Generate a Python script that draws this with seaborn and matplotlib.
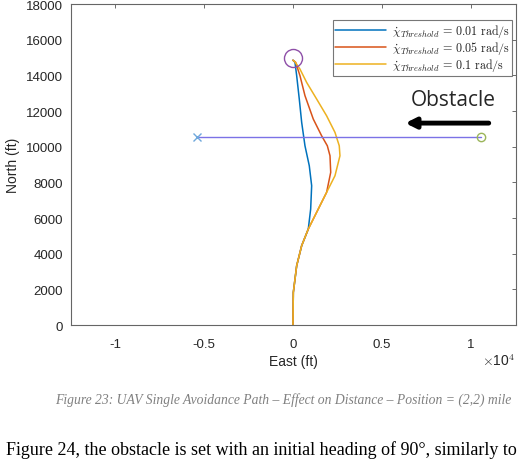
import matplotlib
matplotlib.use('agg')
from matplotlib import pyplot as plt
from matplotlib.lines import Line2D
import numpy as np
import pandas as pd
import seaborn as sns

# avoidance paths (east ft, north ft)
east_001 = [0, 20, 208, 489, 860, 994, 1050, 916, 674, 489, 354, 208, 112, 0]
north_001 = [0, 1830, 3325, 4450, 5380, 6500, 7810, 8930, 10050, 11360, 12670, 13980, 14730, 14850]
east_005 = [0, 20, 208, 489, 860, 1330, 1890, 2120, 2080, 1930, 1610, 1140, 674, 393, 150, 0]
north_005 = [0, 1830, 3325, 4450, 5380, 6320, 7440, 8560, 9490, 10050, 10610, 11550, 12860, 13980, 14730, 14850]
east_01 = [0, 20, 208, 489, 860, 1330, 1890, 2360, 2640, 2600, 2360, 1890, 1330, 770, 393, 112, 0]
north_01 = [0, 1830, 3325, 4450, 5380, 6320, 7440, 8370, 9490, 10050, 10800, 11730, 12670, 13600, 14350, 14760, 14850]
cases = ['0.01', '0.05', '0.1']

obs_east = [-5400, 10550]
obs_north = [10560, 10560]
target = (0, 15000)

xticks = [-10000, -5000, 0, 5000, 10000]
xticklabels = ['-1', '-0.5', '0', '0.5', '1']
yticks = list(range(0, 18001, 2000))

rows = []
for c, ex, no in zip(cases, [east_001, east_005, east_01], [north_001, north_005, north_01]):
    for i, (e, n) in enumerate(zip(ex, no)):
        rows.append([c, i, e, n])
df = pd.DataFrame(rows, columns=['case', 'idx', 'east', 'north'])

sns.set_style('white')
plt.rcParams['font.family'] = ['Liberation Sans', 'DejaVu Sans']
plt.rcParams['mathtext.fontset'] = 'cm'

fig = plt.figure(figsize=(5.23, 4.64), dpi=100)
ax = fig.add_axes([0.1358, 0.2974, 0.8508, 0.6918])

pal = ['#0072BD', '#D95319', '#EDB120']
sns.lineplot(data=df, x='east', y='north', hue='case', units='case', estimator=None,
             sort=False, palette=pal, lw=1.1, ax=ax, legend=False)

ax.plot(obs_east, obs_north, color='#7B72E6', lw=1.0)
ax.plot(obs_east[0], obs_north[0], 'x', color='#6FA8DC', ms=6, mew=1.0)
ax.plot(obs_east[1], obs_north[1], 'o', mfc='none', mec='#9BB55A', ms=6, mew=1.0)
ax.plot(target[0], target[1], 'o', mfc='none', mec='#8E4FA8', ms=13, mew=1.0)

handles = [Line2D([], [], color=p, lw=1.1) for p in pal]
labels = [r'$\dot{\chi}_{Threshold}\,=\,%s\ \mathrm{rad/s}$' % c for c in cases]
leg = ax.legend(handles, labels, loc='upper right', bbox_to_anchor=(0.997, 0.958),
                fontsize=8.7, handlelength=4.2, frameon=True, fancybox=False,
                borderpad=0.2, labelspacing=0.0, handletextpad=0.5, borderaxespad=0.2)
leg.get_frame().set_edgecolor('#555555')
leg.get_frame().set_linewidth(0.8)

ax.text(0.955, 0.704, 'Obstacle', transform=ax.transAxes, ha='right', va='center',
        fontsize=15, family=['Open Sans', 'DejaVu Sans'])
ax.annotate('', xy=(0.745, 0.629), xytext=(0.945, 0.629), xycoords='axes fraction',
            arrowprops=dict(arrowstyle='-|>,head_length=0.6,head_width=0.3', color='black', lw=3.5))

ax.set_xlim(-12470, 12530)
ax.set_ylim(0, 18000)
ax.set_xticks(xticks)
ax.set_xticklabels(xticklabels)
ax.set_yticks(yticks)
ax.tick_params(direction='in', length=3, width=0.6, color='#555555', labelsize=9.5,
               labelcolor='#262626', top=True, right=True, pad=6)
ax.tick_params(axis='x', pad=9)
for s in ax.spines.values():
    s.set_color('#666666')
    s.set_linewidth(0.8)
ax.set_xlabel('East (ft)', fontsize=10, color='#262626', labelpad=3)
ax.set_ylabel('North (ft)', fontsize=10, color='#262626', labelpad=4)

fig.text(0.953, 0.222, r'$\times$10$^4$', ha='center', va='center', fontsize=10, color='#262626')

fig.text(0.541, 0.138, 'Figure 23: UAV Single Avoidance Path \u2013 Effect on Distance \u2013 Position = (2,2) mile',
         ha='center', va='center', fontsize=9.8, style='italic', color='#808080',
         family=['Liberation Serif', 'DejaVu Serif'])
fig.text(0.012, 0.02, 'Figure 24, the obstacle is set with an initial heading of 90\u00b0, similarly to',
         ha='left', va='baseline', fontsize=13, color='black',
         family=['Liberation Serif', 'DejaVu Serif'])

plt.savefig('out.png', dpi=100)
plt.close()
